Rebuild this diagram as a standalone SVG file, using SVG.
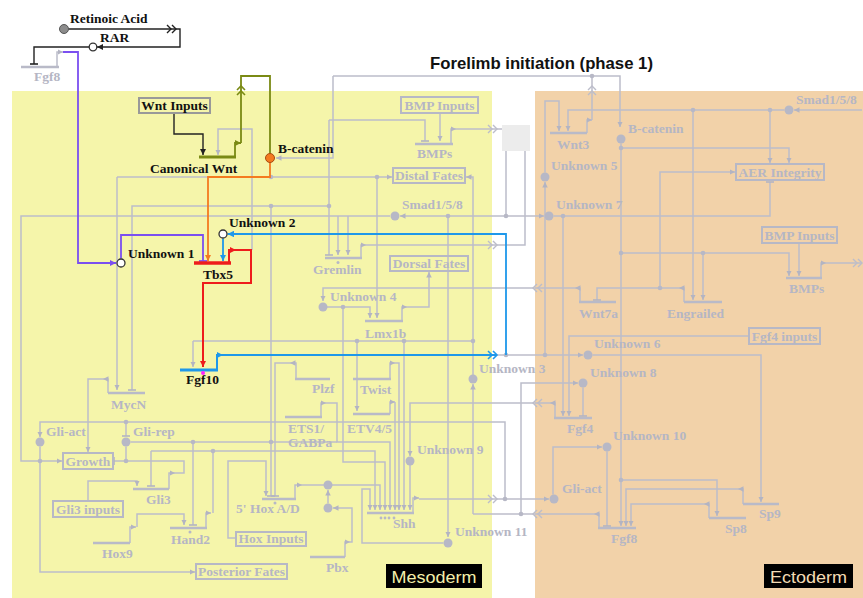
<svg xmlns="http://www.w3.org/2000/svg" width="863" height="598" viewBox="0 0 863 598">
<style>
.g{fill:none;stroke:#bcbdca;stroke-width:1.5}
.gg{fill:none;stroke:#b9bac8;stroke-width:2.6}
.t{font-family:"Liberation Serif","Times New Roman",serif;font-weight:bold;font-size:13.5px}
.gt{fill:#b5b6c4}
.kt{fill:#111}
.dot{fill:#b7b8c6}
.nd{fill:#b7b8c6}
.box{fill:none;stroke:#b7b8c6;stroke-width:2}
.ch{fill:none;stroke:#bcbdca;stroke-width:1.4}
.open{fill:#fff;stroke:#333;stroke-width:1.3}
.lab{font-family:"Liberation Sans",Arial,sans-serif;font-size:17px}
</style>
<defs>
<marker id="ag" viewBox="0 0 6 6" refX="6" refY="3" markerWidth="5.5" markerHeight="5.5" markerUnits="userSpaceOnUse" orient="auto"><path d="M0,0L6,3L0,6z" fill="#b3b4c2"/></marker>
<marker id="tg" viewBox="0 0 2 8" refX="1" refY="4" markerWidth="2" markerHeight="8" markerUnits="userSpaceOnUse" orient="auto"><path d="M1,0V8" stroke="#b3b4c2" stroke-width="1.6"/></marker>
<marker id="ak" viewBox="0 0 6 6" refX="6" refY="3" markerWidth="6" markerHeight="6" markerUnits="userSpaceOnUse" orient="auto"><path d="M0,0L6,3L0,6z" fill="#222"/></marker>
<marker id="tk" viewBox="0 0 2 8" refX="1" refY="4" markerWidth="2" markerHeight="8" markerUnits="userSpaceOnUse" orient="auto"><path d="M1,0V8" stroke="#222" stroke-width="1.6"/></marker>
<marker id="ap" viewBox="0 0 6 6" refX="6" refY="3" markerWidth="6" markerHeight="6" markerUnits="userSpaceOnUse" orient="auto"><path d="M0,0L6,3L0,6z" fill="#7b4ff0"/></marker>
<marker id="tp" viewBox="0 0 2 8" refX="1" refY="4" markerWidth="2" markerHeight="8" markerUnits="userSpaceOnUse" orient="auto"><path d="M1,0V8" stroke="#7b4ff0" stroke-width="1.8"/></marker>
<marker id="ao" viewBox="0 0 6 6" refX="6" refY="3" markerWidth="6" markerHeight="6" markerUnits="userSpaceOnUse" orient="auto"><path d="M0,0L6,3L0,6z" fill="#f47b20"/></marker>
<marker id="ar" viewBox="0 0 6 6" refX="6" refY="3" markerWidth="6.5" markerHeight="6.5" markerUnits="userSpaceOnUse" orient="auto"><path d="M0,0L6,3L0,6z" fill="#ee1c1c"/></marker>
<marker id="ab" viewBox="0 0 6 6" refX="6" refY="3" markerWidth="6.5" markerHeight="6.5" markerUnits="userSpaceOnUse" orient="auto"><path d="M0,0L6,3L0,6z" fill="#1e98ea"/></marker>
<marker id="av" viewBox="0 0 6 6" refX="6" refY="3" markerWidth="6" markerHeight="6" markerUnits="userSpaceOnUse" orient="auto"><path d="M0,0L6,3L0,6z" fill="#7a8a14"/></marker>
<path id="cR" d="M-9,-4L-5,0L-9,4M-4,-4L0,0L-4,4"/>
<path id="cL" d="M9,-4L5,0L9,4M4,-4L0,0L4,4"/>
<path id="cU" d="M-4,9L0,5L4,9M-4,4L0,0L4,4"/>
</defs>

<g id="backgrounds">
<rect x="12" y="91" width="480" height="507" fill="#f5f5aa"/>
<rect x="535" y="91" width="328" height="507" fill="#f2d2a9"/>
<rect x="502" y="125" width="28" height="26" fill="#ececec"/>
</g>

<text id="title" x="430" y="69" font-family="Liberation Sans,Arial,sans-serif" font-weight="bold" font-size="16.5" textLength="223" lengthAdjust="spacingAndGlyphs" fill="#111">Forelimb initiation (phase 1)</text>

<g id="connectors">
<path class="g" d="M592 120V76"/>
<use href="#cU" x="592" y="86" class="ch"/>
<path class="g" d="M333 76H620V127" marker-end="url(#ag)"/>
<path class="g" d="M333 76V158H276" marker-end="url(#ag)"/>
<path class="g" d="M329 120H425V141" marker-end="url(#tg)"/>
<path class="g" d="M329 120V255" marker-end="url(#tg)"/>
<path class="g" d="M329 206H132V390" marker-end="url(#tg)"/>
<path class="g" d="M271 206V496" marker-end="url(#tg)"/>
<path class="g" d="M117 177V390" marker-end="url(#ag)"/>
<path class="g" d="M117 177H392" marker-end="url(#ag)"/>
<path class="g" d="M377 177V318" marker-end="url(#ag)"/>
<path class="g" d="M390 216H21V461H62" marker-end="url(#ag)"/>
<path class="g" d="M338 216V255" marker-end="url(#ag)"/>
<path class="g" d="M348 216V255" marker-end="url(#ag)"/>
<path class="g" d="M506 151V216H400" marker-end="url(#ag)"/>
<path class="g" d="M506 216H544" marker-end="url(#ag)"/>
<path class="g" d="M448 216V537" marker-end="url(#ag)"/>
<path class="g" d="M361 258V245H366" marker-end="url(#ag)"/>
<path class="g" d="M366 245H496"/>
<use href="#cR" x="497" y="245" class="ch"/>
<path class="g" d="M497 245H525V151"/>
<path class="g" d="M440 113V141" marker-end="url(#ag)"/>
<path class="g" d="M451 144V129H456" marker-end="url(#ag)"/>
<path class="g" d="M456 129H502"/>
<use href="#cR" x="497" y="129" class="ch"/>
<path class="g" d="M533 288H323V301" marker-end="url(#ag)"/>
<use href="#cL" x="533" y="288" class="ch"/>
<path class="g" d="M327 307H370V318" marker-end="url(#ag)"/>
<path class="g" d="M343 307V462H385V510" marker-end="url(#ag)"/>
<path class="g" d="M402 321V307H407" marker-end="url(#ag)"/>
<path class="g" d="M407 307H429V272" marker-end="url(#ag)"/>
<path class="g" d="M193 341H473"/>
<path class="g" d="M193 341V367" marker-end="url(#ag)"/>
<path class="g" d="M357 341V411" marker-end="url(#ag)"/>
<path class="g" d="M404 341V510" marker-end="url(#ag)"/>
<path class="g" d="M473 514V384" marker-end="url(#ag)"/>
<path class="g" d="M473 375V177H466" marker-end="url(#ag)"/>
<path class="g" d="M473 514H533"/>
<use href="#cL" x="533" y="514" class="ch"/>
<path class="g" d="M521 514V383H578" marker-end="url(#ag)"/>
<path class="g" d="M533 403H410V456" marker-end="url(#ag)"/>
<use href="#cL" x="533" y="403" class="ch"/>
<path class="g" d="M410 465V510" marker-end="url(#ag)"/>
<path class="g" d="M413 513V498H419" marker-end="url(#ag)"/>
<path class="g" d="M419 499H497"/>
<use href="#cR" x="497" y="499" class="ch"/>
<path class="g" d="M497 499H549" marker-end="url(#ag)"/>
<path class="g" d="M505 499V422H40V437" marker-end="url(#ag)"/>
<path class="g" d="M443.5 543H362V489H370V510" marker-end="url(#ag)"/>
<path class="g" d="M295 499V485H302" marker-end="url(#ag)"/>
<path class="g" d="M302 485H324"/>
<path class="g" d="M332 485H380V510" marker-end="url(#ag)"/>
<path class="g" d="M345 557V542H350" marker-end="url(#ag)"/>
<path class="g" d="M350 542H352V508H333" marker-end="url(#ag)"/>
<path class="g" d="M328 503.5V490" marker-end="url(#ag)"/>
<path class="g" d="M236 538H228V461H266V496" marker-end="url(#ag)"/>
<path class="g" d="M296 379V363H290" marker-end="url(#ag)"/>
<path class="g" d="M290 363H275V496" marker-end="url(#tg)"/>
<path class="g" d="M321 417V403H326" marker-end="url(#ag)"/>
<path class="g" d="M326 403H337V442H390V510" marker-end="url(#ag)"/>
<path class="g" d="M390 379V363H395" marker-end="url(#ag)"/>
<path class="g" d="M395 363H399V510" marker-end="url(#ag)"/>
<path class="g" d="M390 414V402H395" marker-end="url(#ag)"/>
<path class="g" d="M395 402V510" marker-end="url(#ag)"/>
<path class="g" d="M130.5 442H337"/>
<path class="g" d="M193 442V525" marker-end="url(#tg)"/>
<path class="g" d="M126 422V436" marker-end="url(#tg)"/>
<path class="g" d="M126 446.5V461"/>
<path class="g" d="M169 489V473H175" marker-end="url(#ag)"/>
<path class="g" d="M175 473H184V461H114" marker-end="url(#tg)"/>
<path class="g" d="M88 501V481H137V486" marker-end="url(#ag)"/>
<path class="g" d="M151 451V486" marker-end="url(#tg)"/>
<path class="g" d="M151 451H375V510" marker-end="url(#ag)"/>
<path class="g" d="M206 528V513H211" marker-end="url(#ag)"/>
<path class="g" d="M213 513V451"/>
<path class="g" d="M130 543V527H136" marker-end="url(#ag)"/>
<path class="g" d="M137 527V514H184V525" marker-end="url(#ag)"/>
<path class="g" d="M40 446.5V572H195" marker-end="url(#ag)"/>
<path class="g" d="M108 393V379H103" marker-end="url(#ag)"/>
<path class="g" d="M103 379H88V452" marker-end="url(#ag)"/>
<path class="g" d="M252 250V129H218V155" marker-end="url(#ag)"/>
<path class="g" d="M862 110H794" marker-end="url(#ag)"/>
<path class="g" d="M784.5 110H568V131" marker-end="url(#ag)"/>
<path class="g" d="M770 110V163" marker-end="url(#ag)"/>
<path class="g" d="M693 110V300" marker-end="url(#ag)"/>
<path class="g" d="M545 172.5V101H559V131" marker-end="url(#ag)"/>
<path class="g" d="M545 355V182" marker-end="url(#ag)"/>
<path class="g" d="M621 143.5V526" marker-end="url(#ag)"/>
<path class="g" d="M621 148H789V163" marker-end="url(#ag)"/>
<path class="g" d="M621 253H789V276" marker-end="url(#ag)"/>
<path class="g" d="M703 253V300" marker-end="url(#ag)"/>
<path class="g" d="M621 480H717V516" marker-end="url(#ag)"/>
<path class="g" d="M660 288V172H735" marker-end="url(#ag)"/>
<path class="g" d="M553.5 216H770V182" marker-end="url(#tg)"/>
<path class="g" d="M563 216V416" marker-end="url(#ag)"/>
<path class="g" d="M749 336H569V416" marker-end="url(#ag)"/>
<path class="g" d="M583 387.5V416" marker-end="url(#tg)"/>
<path class="g" d="M684 302V288H679" marker-end="url(#ag)"/>
<path class="g" d="M679 288H597V300" marker-end="url(#tg)"/>
<path class="g" d="M592.5 355H761V502" marker-end="url(#ag)"/>
<path class="g" d="M553 494.5V447H602" marker-end="url(#ag)"/>
<path class="g" d="M607 451.5V526" marker-end="url(#tg)"/>
<path class="g" d="M709 518V504H704" marker-end="url(#ag)"/>
<path class="g" d="M704 504H631V526" marker-end="url(#ag)"/>
<path class="g" d="M743 504V489H738" marker-end="url(#ag)"/>
<path class="g" d="M738 489H626V526" marker-end="url(#ag)"/>
<path class="g" d="M799 243V276" marker-end="url(#ag)"/>
<path class="g" d="M821 278V263H826" marker-end="url(#ag)"/>
<path class="g" d="M826 263H862"/>
<use href="#cR" x="862" y="263" class="ch"/>
<path class="g" d="M580 302V288H575" marker-end="url(#ag)"/>
<path class="g" d="M575 288H533"/>
<path class="g" d="M555 418V403H550" marker-end="url(#ag)"/>
<path class="g" d="M550 403H533"/>
<path class="g" d="M599 528V514H594" marker-end="url(#ag)"/>
<path class="g" d="M594 514H533"/>
<path class="g" d="M587 133V120H592" marker-end="url(#ag)"/>
<path class="g" d="M497 355H583" marker-end="url(#ag)"/>
<g class="dot">
<circle cx="592" cy="76" r="2.3"/><circle cx="329" cy="206" r="2.3"/><circle cx="271" cy="206" r="2.3"/>
<circle cx="271" cy="177" r="2.3"/><circle cx="377" cy="177" r="2.3"/><circle cx="448" cy="216" r="2.3"/>
<circle cx="506" cy="216" r="2.3"/><circle cx="343" cy="307" r="2.3"/><circle cx="357" cy="341" r="2.3"/>
<circle cx="404" cy="341" r="2.3"/><circle cx="473" cy="341" r="2.3"/><circle cx="506" cy="355" r="2.3"/>
<circle cx="545" cy="355" r="2.3"/><circle cx="521" cy="514" r="2.3"/><circle cx="505" cy="499" r="2.3"/>
<circle cx="126" cy="422" r="2.3"/><circle cx="193" cy="442" r="2.3"/><circle cx="271" cy="442" r="2.3"/>
<circle cx="126" cy="461" r="2.3"/><circle cx="40" cy="461" r="2.3"/><circle cx="213" cy="451" r="2.3"/>
<circle cx="770" cy="110" r="2.3"/><circle cx="693" cy="110" r="2.3"/><circle cx="621" cy="148" r="2.3"/>
<circle cx="621" cy="253" r="2.3"/><circle cx="703" cy="253" r="2.3"/><circle cx="621" cy="480" r="2.3"/>
<circle cx="660" cy="288" r="2.3"/><circle cx="563" cy="216" r="2.3"/>
</g>
<path d="M68.5 29H176" fill="none" stroke="#222" stroke-width="1.4"/>
<use href="#cR" x="176" y="29" fill="none" stroke="#222" stroke-width="1.4"/>
<path d="M176 29H180V47H97" fill="none" stroke="#222" stroke-width="1.4" marker-end="url(#ak)"/>
<path d="M89.5 47H34V64" fill="none" stroke="#222" stroke-width="1.4" marker-end="url(#tk)"/>
<path d="M57 67V52H63" class="g" marker-end="url(#ag)"/>
<path d="M63 52H78V263H116" fill="none" stroke="#7b4ff0" stroke-width="1.8" marker-end="url(#ap)"/>
<path d="M121 258.5V235H203V261" fill="none" stroke="#7b4ff0" stroke-width="1.8" marker-end="url(#tp)"/>
<path d="M174 113V134H203V155" fill="none" stroke="#222" stroke-width="1.4" marker-end="url(#ak)"/>
<path d="M235 157V143H241" fill="none" stroke="#7a8a14" stroke-width="1.8" marker-end="url(#av)"/>
<path d="M241 143V76H270V153.5" fill="none" stroke="#7a8a14" stroke-width="1.8"/>
<use href="#cU" x="241" y="86" fill="none" stroke="#7a8a14" stroke-width="1.6"/>
<path d="M270 162.5V177H208V261" fill="none" stroke="#f47b20" stroke-width="1.8" marker-end="url(#ao)"/>
<path d="M229 263V250H236" fill="none" stroke="#ee1c1c" stroke-width="2" marker-end="url(#ar)"/>
<path d="M236 250H251V283H203V367" fill="none" stroke="#ee1c1c" stroke-width="2" marker-end="url(#ar)"/>
<path d="M506 355V234H227.5" fill="none" stroke="#1e98ea" stroke-width="1.8" marker-end="url(#ab)"/>
<path d="M223 238.5V261" fill="none" stroke="#1e98ea" stroke-width="1.8" marker-end="url(#ab)"/>
<path d="M217 370V355H223" fill="none" stroke="#1e98ea" stroke-width="2" marker-end="url(#ab)"/>
<path d="M223 355H497" fill="none" stroke="#1e98ea" stroke-width="1.8"/>
<use href="#cR" x="497" y="355" fill="none" stroke="#1e98ea" stroke-width="1.6"/>
</g>

<g id="retinoic-acid"><circle cx="64" cy="29" r="4.5" fill="#8c8c8c" stroke="#555" stroke-width="1"/><text class="t kt" x="70" y="23">Retinoic Acid</text></g>
<g id="rar"><circle cx="93" cy="47" r="3.8" class="open"/><text class="t kt" x="100" y="42">RAR</text></g>
<g id="fgf8-top"><path class="gg" d="M21 67H59"/><text class="t gt" x="34" y="81">Fgf8</text></g>
<g id="wnt-inputs"><rect x="139" y="98" width="71" height="15" fill="none" stroke="#999" stroke-width="2"/><text class="t kt" x="174.5" y="110" text-anchor="middle">Wnt Inputs</text></g>
<g id="canonical-wnt"><path d="M199 157H236" stroke="#7a8a14" stroke-width="3"/><text class="t kt" x="150" y="173">Canonical Wnt</text></g>
<g id="b-catenin-meso"><circle cx="270" cy="158" r="4.5" fill="#f47b20" stroke="#a84a10" stroke-width="1"/><text class="t kt" x="278" y="153">B-catenin</text></g>
<g id="unknown1"><circle cx="121" cy="263" r="4" class="open"/><text class="t kt" x="128" y="258">Unknown 1</text></g>
<g id="unknown2"><circle cx="223" cy="234" r="4" class="open"/><text class="t kt" x="229" y="227">Unknown 2</text></g>
<g id="tbx5"><path d="M194 263H231" stroke="#ee1c1c" stroke-width="3.5"/><text class="t kt" x="203" y="279">Tbx5</text></g>
<g id="fgf10"><path d="M180 370H218" stroke="#1e98ea" stroke-width="3"/><circle cx="203" cy="373" r="2" fill="#ff22ff"/><text class="t kt" x="186" y="384">Fgf10</text></g>

<g id="bmp-inputs-meso"><rect x="401" y="97" width="77" height="16" class="box"/><text class="t gt" x="439.5" y="109.5" text-anchor="middle">BMP Inputs</text></g>
<g id="bmps-meso"><path class="gg" d="M415 144H453"/><text class="t gt" x="417" y="158">BMPs</text></g>
<g id="distal-fates"><rect x="393" y="168" width="72" height="15" class="box"/><text class="t gt" x="429" y="180" text-anchor="middle">Distal Fates</text></g>
<g id="smad-meso"><circle cx="395" cy="216" r="4.5" class="nd"/><text class="t gt" x="402" y="209">Smad1/5/8</text></g>
<g id="gremlin"><path class="gg" d="M325 258H362"/><circle cx="338" cy="262.5" r="1.5" class="nd"/><text class="t gt" x="313" y="274">Gremlin</text></g>
<g id="dorsal-fates"><rect x="390" y="256" width="78" height="15" class="box"/><text class="t gt" x="429" y="268" text-anchor="middle">Dorsal Fates</text></g>
<g id="unknown4"><circle cx="323" cy="307" r="4.5" class="nd"/><text class="t gt" x="330" y="301">Unknown 4</text></g>
<g id="lmx1b"><path class="gg" d="M365 321H403"/><text class="t gt" x="365" y="338">Lmx1b</text></g>
<g id="unknown3"><circle cx="473" cy="379" r="4.5" class="nd"/><text class="t gt" x="479" y="373">Unknown 3</text></g>
<g id="mycn"><path class="gg" d="M108 393H145"/><text class="t gt" x="111" y="409">MycN</text></g>
<g id="gli-act-meso"><circle cx="40" cy="442" r="4.5" class="nd"/><text class="t gt" x="46" y="436">Gli-act</text></g>
<g id="gli-rep"><circle cx="126" cy="442" r="4.5" class="nd"/><text class="t gt" x="133" y="436">Gli-rep</text></g>
<g id="growth"><rect x="63" y="453" width="50" height="16" class="box"/><text class="t gt" x="88" y="466" text-anchor="middle">Growth</text></g>
<g id="gli3"><path class="gg" d="M133 489H169"/><text class="t gt" x="146" y="504">Gli3</text></g>
<g id="gli3-inputs"><rect x="53" y="501" width="70" height="16" class="box"/><text class="t gt" x="88" y="514" text-anchor="middle">Gli3 inputs</text></g>
<g id="hand2"><path class="gg" d="M170 528H207"/><circle cx="190" cy="532" r="1.5" class="nd"/><text class="t gt" x="171" y="544">Hand2</text></g>
<g id="hox9"><path class="gg" d="M93 543H130"/><text class="t gt" x="102" y="558">Hox9</text></g>
<g id="posterior-fates"><rect x="196" y="564" width="91" height="15" class="box"/><text class="t gt" x="241.5" y="576" text-anchor="middle">Posterior Fates</text></g>
<g id="hox-ad"><path class="gg" d="M262 499H296"/><circle cx="275" cy="503" r="1.5" class="nd"/><text class="t gt" x="236" y="513">5' Hox A/D</text></g>
<g id="hox-inputs"><rect x="236" y="532" width="70" height="14" class="box"/><text class="t gt" x="271" y="543" text-anchor="middle">Hox Inputs</text></g>
<g id="plzf"><path class="gg" d="M295 379H330"/><text class="t gt" x="312" y="393">Plzf</text></g>
<g id="twist"><path class="gg" d="M353 379H391"/><text class="t gt" x="360" y="394">Twist</text></g>
<g id="ets1"><path class="gg" d="M285 417H322"/><text class="t gt" x="288" y="433">ETS1/</text><text class="t gt" x="288" y="447">GABPa</text></g>
<g id="etv45"><path class="gg" d="M353 414H390"/><text class="t gt" x="347" y="433">ETV4/5</text></g>
<g id="unknown9"><circle cx="410" cy="461" r="4.5" class="nd"/><text class="t gt" x="417" y="454">Unknown 9</text></g>
<g id="shh"><path class="gg" d="M367 513H414"/><g class="nd"><circle cx="381" cy="518" r="1.4"/><circle cx="385" cy="518" r="1.4"/><circle cx="389" cy="518" r="1.4"/><circle cx="394" cy="518" r="1.4"/></g><text class="t gt" x="393" y="528">Shh</text></g>
<g id="unknown11"><circle cx="448" cy="543" r="4.5" class="nd"/><text class="t gt" x="455" y="536">Unknown 11</text></g>
<g id="pbx"><path class="gg" d="M310 557H345"/><circle cx="328" cy="485" r="4.5" class="nd"/><circle cx="328" cy="508" r="4.5" class="nd"/><text class="t gt" x="326" y="572">Pbx</text></g>

<g id="wnt3"><path class="gg" d="M550 133H587"/><text class="t gt" x="557" y="149">Wnt3</text></g>
<g id="b-catenin-ecto"><circle cx="621" cy="139" r="4.5" class="nd"/><text class="t gt" x="628" y="133">B-catenin</text></g>
<g id="smad-ecto"><circle cx="789" cy="110" r="4.5" class="nd"/><text class="t gt" x="796" y="104">Smad1/5/8</text></g>
<g id="aer-integrity"><rect x="736" y="164" width="88" height="16" class="box"/><text class="t gt" x="780" y="177" text-anchor="middle">AER Integrity</text></g>
<g id="unknown5"><circle cx="545" cy="177" r="4.5" class="nd"/><text class="t gt" x="551" y="170">Unknown 5</text></g>
<g id="unknown7"><circle cx="549" cy="216" r="4.5" class="nd"/><text class="t gt" x="556" y="209">Unknown 7</text></g>
<g id="bmp-inputs-ecto"><rect x="762" y="227" width="75" height="16" class="box"/><text class="t gt" x="799.5" y="240" text-anchor="middle">BMP Inputs</text></g>
<g id="bmps-ecto"><path class="gg" d="M786 278H822"/><text class="t gt" x="789" y="293">BMPs</text></g>
<g id="wnt7a"><path class="gg" d="M579 302H616"/><text class="t gt" x="579" y="318">Wnt7a</text></g>
<g id="engrailed"><path class="gg" d="M684 302H722"/><text class="t gt" x="667" y="318">Engrailed</text></g>
<g id="fgf4-inputs"><rect x="749" y="328" width="71" height="16" class="box"/><text class="t gt" x="784.5" y="341" text-anchor="middle">Fgf4 inputs</text></g>
<g id="unknown6"><circle cx="588" cy="355" r="4.5" class="nd"/><text class="t gt" x="594" y="348">Unknown 6</text></g>
<g id="unknown8"><circle cx="583" cy="383" r="4.5" class="nd"/><text class="t gt" x="590" y="377">Unknown 8</text></g>
<g id="fgf4"><path class="gg" d="M554 418H592"/><text class="t gt" x="567" y="433">Fgf4</text></g>
<g id="unknown10"><circle cx="607" cy="447" r="4.5" class="nd"/><text class="t gt" x="613" y="440">Unknown 10</text></g>
<g id="gli-act-ecto"><circle cx="554" cy="499" r="4.5" class="nd"/><text class="t gt" x="562" y="493">Gli-act</text></g>
<g id="fgf8-ecto"><path class="gg" d="M598 528H636"/><text class="t gt" x="611" y="543">Fgf8</text></g>
<g id="sp8"><path class="gg" d="M709 518H746"/><text class="t gt" x="725" y="533">Sp8</text></g>
<g id="sp9"><path class="gg" d="M743 504H779"/><text class="t gt" x="759" y="518">Sp9</text></g>

<g id="region-labels">
<rect x="386" y="564" width="96" height="24" fill="#000"/>
<text class="lab" x="434" y="582.5" text-anchor="middle" fill="#f4efaa" textLength="85" lengthAdjust="spacingAndGlyphs">Mesoderm</text>
<rect x="764" y="564" width="89" height="24" fill="#000"/>
<text class="lab" x="808.5" y="582.5" text-anchor="middle" fill="#f3dcb4" textLength="77" lengthAdjust="spacingAndGlyphs">Ectoderm</text>
</g>
</svg>
